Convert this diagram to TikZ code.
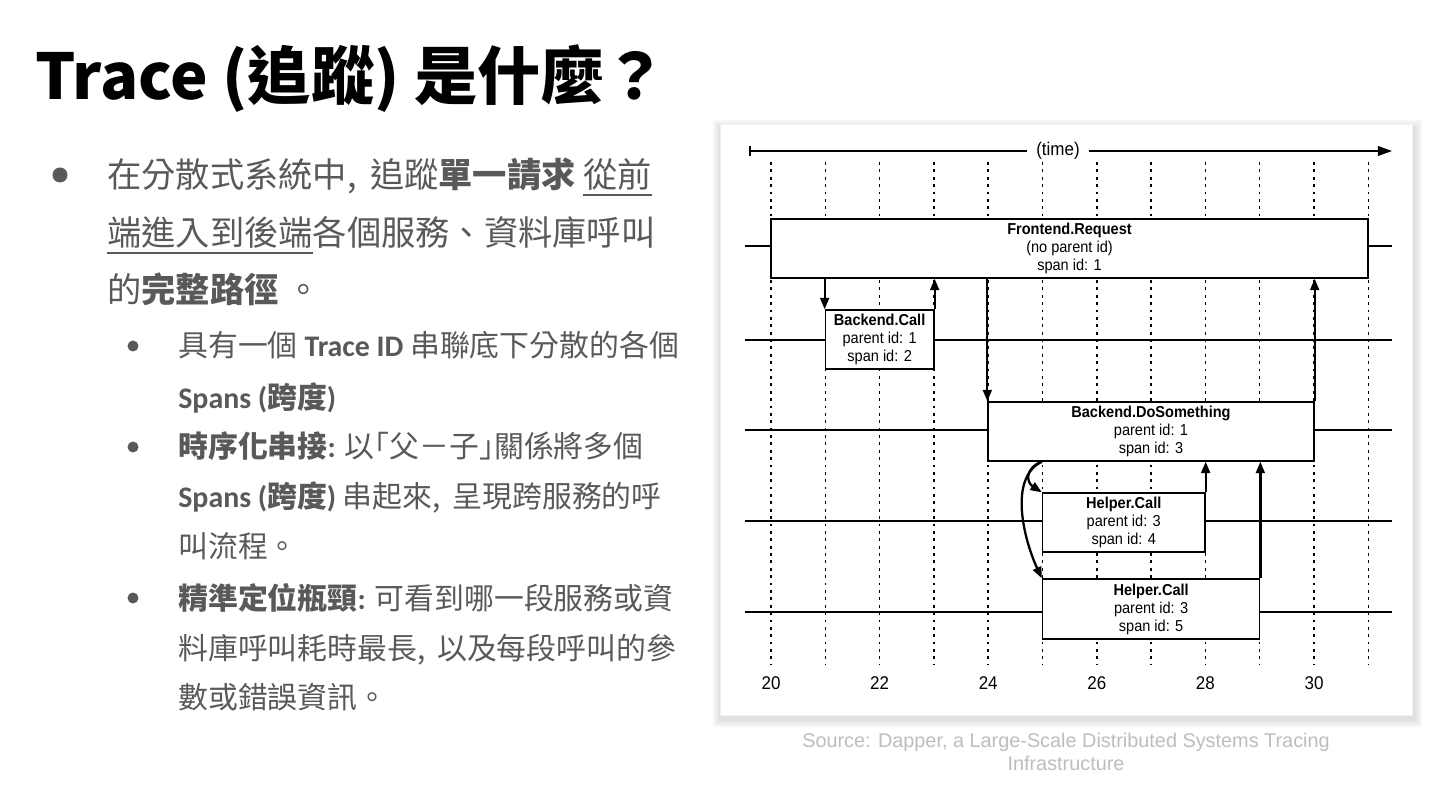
\documentclass[tikz,border=0pt]{standalone}
\usepackage{fontspec}
\setmainfont{Noto Sans CJK TC}
\newfontfamily\lat{Carlito}
\newfontfamily\dapper[FakeStretch=0.92]{Liberation Sans}
\newfontfamily\srcfont{Liberation Sans}
\usetikzlibrary{
  arrows.meta,
  positioning,
  fit
}
\definecolor{SlideGrey}{HTML}{595959}
\definecolor{SrcGrey}{HTML}{BDBDBD}
\newcommand{\undertext}[1]{\setbox0=\hbox{#1}\rlap{\rule[-4.5pt]{\wd0}{1pt}}\box0}
\tikzset{
  % Slide title
  titletxt/.style={anchor=base west, inner sep=0pt,
    font=\bfseries\fontsize{36}{42}\selectfont},
  % Body text, one node per line
  bodytxt/.style={anchor=base west, inner sep=0pt, text=SlideGrey,
    font=\fontsize{19.5}{24}\selectfont},
  subtxt/.style={anchor=base west, inner sep=0pt, text=SlideGrey,
    font=\fontsize{17}{20}\selectfont},
  % Bullet dot
  bulletdot/.style={circle, fill=SlideGrey, inner sep=0pt, minimum size=#1},
  % Span box of the trace (outline only)
  spanbox/.style={rectangle, draw=black, fill=white, line width=0.75pt, inner sep=0pt},
  % Span box text
  spanlbl/.style={inner sep=0pt, align=center, font=\dapper\fontsize{9}{10.2}\selectfont},
  % Dotted time grid
  gridline/.style={line width=0.85pt, dash pattern=on 1.6pt off 2.6pt},
  % Span time line
  spanline/.style={line width=0.75pt},
  % Call / return arrow
  callarr/.style={-{Triangle[length=6.5pt,width=5pt]}, line width=1.3pt},
  % Axis labels
  ticklbl/.style={inner sep=0pt, font=\dapper\fontsize{10.5}{12}\selectfont},
  srclbl/.style={align=center, text=SrcGrey,
    font=\srcfont\fontsize{11.3}{13.5}\selectfont}
}
\begin{document}
\begin{tikzpicture}[x=0.02cm, y=-0.02cm]
  \useasboundingbox (0,0) rectangle (1440,810);

  % ---- TITLE ----
  \node[titletxt] (title) at (35,100) {Trace (追蹤) 是什麼？};

  % ---- BULLETS ----
  \node[bulletdot=0.3cm] (dot1) at (60,175) {};
  \node[bodytxt] (b1a) at (107,188) {在分散式系統中,\, 追蹤{\bfseries 單一請求} \undertext{從前}};
  \node[bodytxt] (b1b) at (107,246) {\undertext{端進入到後端}各個服務、資料庫呼叫};
  \node[bodytxt] (b1c) at (107,303) {的{\bfseries 完整路徑} 。};

  \node[bulletdot=0.22cm] (dot2) at (133,346) {};
  \node[subtxt] (s1a) at (178,357) {具有一個 {\lat\bfseries Trace ID} 串聯底下分散的各個};
  \node[subtxt] (s1b) at (178,409) {{\lat\bfseries Spans (}{\bfseries 跨度}{\lat\bfseries )}};

  \node[bulletdot=0.22cm] (dot3) at (133,447) {};
  \node[subtxt] (s2a) at (178,458) {{\bfseries 時序化串接{\lat :}} 以｢父－子｣關係將多個};
  \node[subtxt] (s2b) at (178,508) {{\lat\bfseries Spans (}{\bfseries 跨度}{\lat\bfseries )} 串起來,\, 呈現跨服務的呼};
  \node[subtxt] (s2c) at (178,558) {叫流程。};

  \node[bulletdot=0.22cm] (dot4) at (133,598) {};
  \node[subtxt] (s3a) at (178,609) {{\bfseries 精準定位瓶頸{\lat :}} 可看到哪一段服務或資};
  \node[subtxt] (s3b) at (178,659) {料庫呼叫耗時最長,\, 以及每段呼叫的參};
  \node[subtxt] (s3c) at (178,708) {數或錯誤資訊。};

  % ---- PANEL WITH SHADOW ----
  \foreach \s in {8,6,4,2}
    \fill[black, opacity=0.03] ({721-\s},{128-\s}) rectangle ({1414+\s},{719+\s});
  \node[fill=white, draw=black!6, inner sep=0pt, fit={(720,124)(1412,715)}] (panel) {};

  % ---- TIME AXIS ----
  \coordinate (tstart) at (749,151);
  \coordinate (tend)   at (1392,151);
  \node[fill=white, inner sep=0pt, minimum width=1.22cm, minimum height=0.35cm,
    font=\dapper\fontsize{10.5}{12}\selectfont] (timelbl) at (1058,151) {(time)};
  \draw[line width=0.9pt, {Bar[width=6pt]}-] (tstart) -- (timelbl.west);
  \draw[line width=0.9pt, -{Triangle[length=8pt,width=5.5pt]}] (timelbl.east) -- (tend);

  % ---- GRID AND SPAN LINES ----
  \foreach \t in {0,...,11}
    \draw[gridline] ({771+54.3*\t},162) -- ({771+54.3*\t},665);
  \foreach \y in {246,340,430,521,612}
    \draw[spanline] (745,\y) -- (1392,\y);

  % ---- SPANS ----
  \node[spanbox, fit={(771,219)(1368,278)}]       (fe)    {};
  \node[spanbox, fit={(825.3,310)(934,369)}]      (bcall) {};
  \node[spanbox, fit={(988,402)(1314,461)}]       (bdo)   {};
  \node[spanbox, fit={(1042.5,493)(1205,552)}]    (help4) {};
  \node[spanbox, fit={(1042.5,579)(1259.7,639)}]  (help5) {};

  \node[spanlbl] (fe-txt)    at (fe.center)    {\textbf{Frontend.Request}\\(no parent id)\\span id: 1};
  \node[spanlbl] (bcall-txt) at (bcall.center) {\textbf{Backend.Call}\\parent id: 1\\span id: 2};
  \node[spanlbl] (bdo-txt)   at (bdo.center)   {\textbf{Backend.DoSomething}\\parent id: 1\\span id: 3};
  \node[spanlbl] (help4-txt) at (help4.center) {\textbf{Helper.Call}\\parent id: 3\\span id: 4};
  \node[spanlbl] (help5-txt) at (help5.center) {\textbf{Helper.Call}\\parent id: 3\\span id: 5};

  % ---- ARROWS ----
  \draw[callarr] (fe.south -| bcall.west) -- (bcall.north west);
  \draw[callarr] (bcall.north east) -- (fe.south -| bcall.east);
  \draw[callarr] (fe.south -| bdo.west) -- (bdo.north west);
  \draw[callarr] (bdo.north east) -- (fe.south -| bdo.east);
  \draw[callarr] (bdo.south -| help4.west) .. controls (1025,468) and (1026,482) .. (help4.north west);
  \draw[callarr] (bdo.south -| help5.west) .. controls (1008,478) and (1024,540) .. (help5.north west);
  \draw[callarr] (help4.north east) -- (bdo.south -| help4.east);
  \draw[callarr] (help5.north east) -- (bdo.south -| help5.east);

  % ---- TICK LABELS ----
  \foreach \t in {20,22,...,30}
    \node[ticklbl] (tick\t) at ({771+54.3*(\t-20)},683) {\t};

  % ---- SOURCE ----
  \node[srclbl] (src) at (1066,752)
    {Source: Dapper, a Large-Scale Distributed Systems Tracing\\Infrastructure};

\end{tikzpicture}
\end{document}
